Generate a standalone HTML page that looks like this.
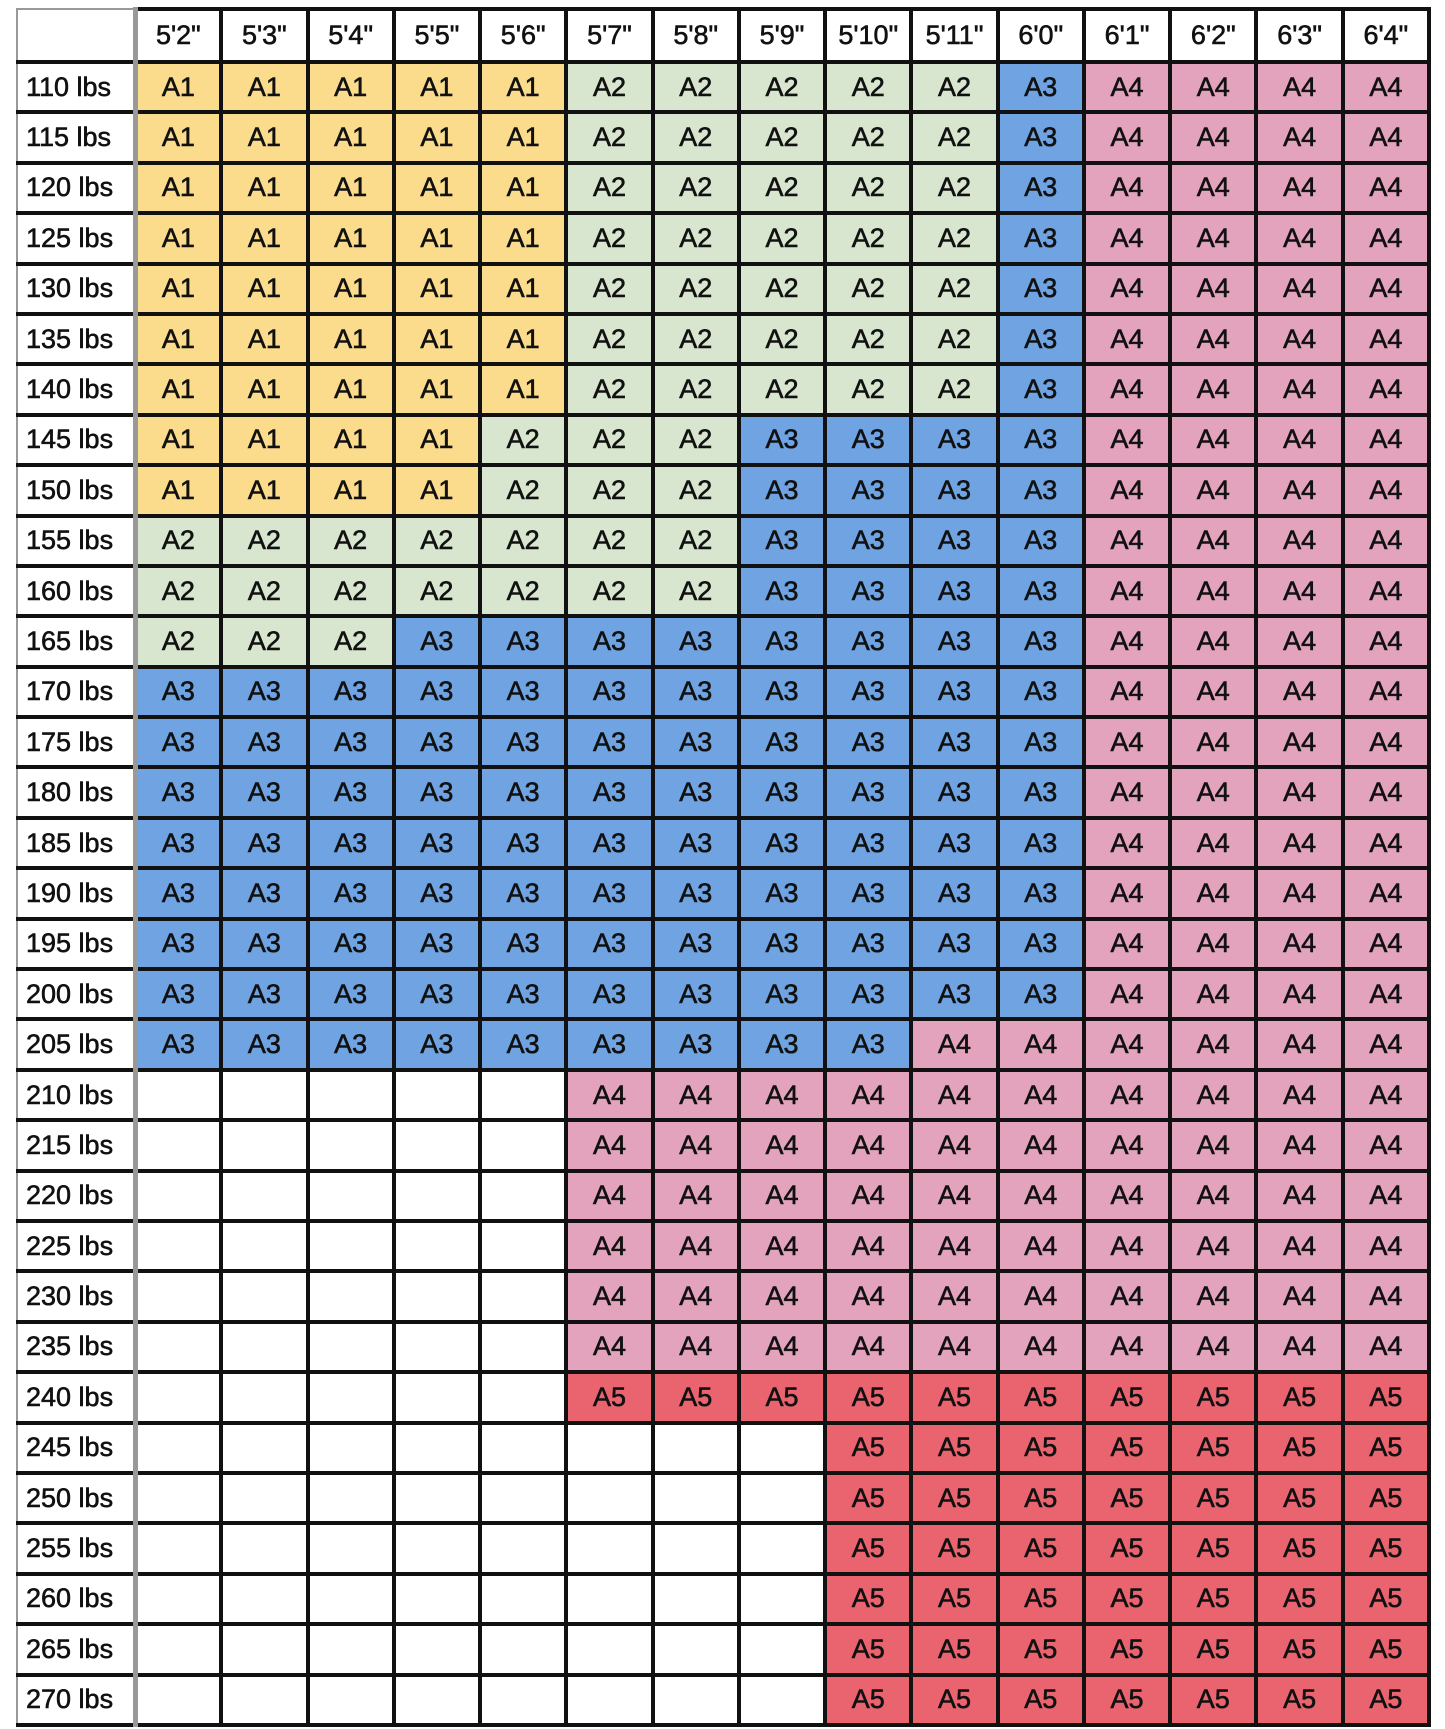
<!DOCTYPE html>
<html><head><meta charset="utf-8"><style>
body{margin:0;background:#fff;width:1445px;height:1729px;overflow:hidden}
table{position:absolute;left:16px;top:7px;width:1412px;border-collapse:collapse;table-layout:fixed;font-family:"Liberation Sans",sans-serif;font-size:27px;color:#111;-webkit-text-stroke:0.6px #111}
tr{height:50.4px}
tr.h{height:53px}
td{border:4px solid #111;text-align:center;padding:0;overflow:hidden;box-sizing:border-box}
tr.h td{background:#fff}
td.l{text-align:left;padding-left:8px;border-left:2px solid #999;border-right:5px solid #999;background:#fff}
tr.h td.l{border-top:2px solid #999}
.y{background:#fbdc8c}.g{background:#d9e6cf}.b{background:#6fa3e2}.p{background:#e3a3bd}.r{background:#ea6470}.w{background:#fff}
</style></head><body>
<table>
<colgroup><col style="width:118px"><col span="15" style="width:86.27px"></colgroup>
<tr class="h"><td class="l"></td><td>5'2"</td><td>5'3"</td><td>5'4"</td><td>5'5"</td><td>5'6"</td><td>5'7"</td><td>5'8"</td><td>5'9"</td><td>5'10"</td><td>5'11"</td><td>6'0"</td><td>6'1"</td><td>6'2"</td><td>6'3"</td><td>6'4"</td></tr>
<tr><td class="l">110 lbs</td><td class="y">A1</td><td class="y">A1</td><td class="y">A1</td><td class="y">A1</td><td class="y">A1</td><td class="g">A2</td><td class="g">A2</td><td class="g">A2</td><td class="g">A2</td><td class="g">A2</td><td class="b">A3</td><td class="p">A4</td><td class="p">A4</td><td class="p">A4</td><td class="p">A4</td></tr>
<tr><td class="l">115 lbs</td><td class="y">A1</td><td class="y">A1</td><td class="y">A1</td><td class="y">A1</td><td class="y">A1</td><td class="g">A2</td><td class="g">A2</td><td class="g">A2</td><td class="g">A2</td><td class="g">A2</td><td class="b">A3</td><td class="p">A4</td><td class="p">A4</td><td class="p">A4</td><td class="p">A4</td></tr>
<tr><td class="l">120 lbs</td><td class="y">A1</td><td class="y">A1</td><td class="y">A1</td><td class="y">A1</td><td class="y">A1</td><td class="g">A2</td><td class="g">A2</td><td class="g">A2</td><td class="g">A2</td><td class="g">A2</td><td class="b">A3</td><td class="p">A4</td><td class="p">A4</td><td class="p">A4</td><td class="p">A4</td></tr>
<tr><td class="l">125 lbs</td><td class="y">A1</td><td class="y">A1</td><td class="y">A1</td><td class="y">A1</td><td class="y">A1</td><td class="g">A2</td><td class="g">A2</td><td class="g">A2</td><td class="g">A2</td><td class="g">A2</td><td class="b">A3</td><td class="p">A4</td><td class="p">A4</td><td class="p">A4</td><td class="p">A4</td></tr>
<tr><td class="l">130 lbs</td><td class="y">A1</td><td class="y">A1</td><td class="y">A1</td><td class="y">A1</td><td class="y">A1</td><td class="g">A2</td><td class="g">A2</td><td class="g">A2</td><td class="g">A2</td><td class="g">A2</td><td class="b">A3</td><td class="p">A4</td><td class="p">A4</td><td class="p">A4</td><td class="p">A4</td></tr>
<tr><td class="l">135 lbs</td><td class="y">A1</td><td class="y">A1</td><td class="y">A1</td><td class="y">A1</td><td class="y">A1</td><td class="g">A2</td><td class="g">A2</td><td class="g">A2</td><td class="g">A2</td><td class="g">A2</td><td class="b">A3</td><td class="p">A4</td><td class="p">A4</td><td class="p">A4</td><td class="p">A4</td></tr>
<tr><td class="l">140 lbs</td><td class="y">A1</td><td class="y">A1</td><td class="y">A1</td><td class="y">A1</td><td class="y">A1</td><td class="g">A2</td><td class="g">A2</td><td class="g">A2</td><td class="g">A2</td><td class="g">A2</td><td class="b">A3</td><td class="p">A4</td><td class="p">A4</td><td class="p">A4</td><td class="p">A4</td></tr>
<tr><td class="l">145 lbs</td><td class="y">A1</td><td class="y">A1</td><td class="y">A1</td><td class="y">A1</td><td class="g">A2</td><td class="g">A2</td><td class="g">A2</td><td class="b">A3</td><td class="b">A3</td><td class="b">A3</td><td class="b">A3</td><td class="p">A4</td><td class="p">A4</td><td class="p">A4</td><td class="p">A4</td></tr>
<tr><td class="l">150 lbs</td><td class="y">A1</td><td class="y">A1</td><td class="y">A1</td><td class="y">A1</td><td class="g">A2</td><td class="g">A2</td><td class="g">A2</td><td class="b">A3</td><td class="b">A3</td><td class="b">A3</td><td class="b">A3</td><td class="p">A4</td><td class="p">A4</td><td class="p">A4</td><td class="p">A4</td></tr>
<tr><td class="l">155 lbs</td><td class="g">A2</td><td class="g">A2</td><td class="g">A2</td><td class="g">A2</td><td class="g">A2</td><td class="g">A2</td><td class="g">A2</td><td class="b">A3</td><td class="b">A3</td><td class="b">A3</td><td class="b">A3</td><td class="p">A4</td><td class="p">A4</td><td class="p">A4</td><td class="p">A4</td></tr>
<tr><td class="l">160 lbs</td><td class="g">A2</td><td class="g">A2</td><td class="g">A2</td><td class="g">A2</td><td class="g">A2</td><td class="g">A2</td><td class="g">A2</td><td class="b">A3</td><td class="b">A3</td><td class="b">A3</td><td class="b">A3</td><td class="p">A4</td><td class="p">A4</td><td class="p">A4</td><td class="p">A4</td></tr>
<tr><td class="l">165 lbs</td><td class="g">A2</td><td class="g">A2</td><td class="g">A2</td><td class="b">A3</td><td class="b">A3</td><td class="b">A3</td><td class="b">A3</td><td class="b">A3</td><td class="b">A3</td><td class="b">A3</td><td class="b">A3</td><td class="p">A4</td><td class="p">A4</td><td class="p">A4</td><td class="p">A4</td></tr>
<tr><td class="l">170 lbs</td><td class="b">A3</td><td class="b">A3</td><td class="b">A3</td><td class="b">A3</td><td class="b">A3</td><td class="b">A3</td><td class="b">A3</td><td class="b">A3</td><td class="b">A3</td><td class="b">A3</td><td class="b">A3</td><td class="p">A4</td><td class="p">A4</td><td class="p">A4</td><td class="p">A4</td></tr>
<tr><td class="l">175 lbs</td><td class="b">A3</td><td class="b">A3</td><td class="b">A3</td><td class="b">A3</td><td class="b">A3</td><td class="b">A3</td><td class="b">A3</td><td class="b">A3</td><td class="b">A3</td><td class="b">A3</td><td class="b">A3</td><td class="p">A4</td><td class="p">A4</td><td class="p">A4</td><td class="p">A4</td></tr>
<tr><td class="l">180 lbs</td><td class="b">A3</td><td class="b">A3</td><td class="b">A3</td><td class="b">A3</td><td class="b">A3</td><td class="b">A3</td><td class="b">A3</td><td class="b">A3</td><td class="b">A3</td><td class="b">A3</td><td class="b">A3</td><td class="p">A4</td><td class="p">A4</td><td class="p">A4</td><td class="p">A4</td></tr>
<tr><td class="l">185 lbs</td><td class="b">A3</td><td class="b">A3</td><td class="b">A3</td><td class="b">A3</td><td class="b">A3</td><td class="b">A3</td><td class="b">A3</td><td class="b">A3</td><td class="b">A3</td><td class="b">A3</td><td class="b">A3</td><td class="p">A4</td><td class="p">A4</td><td class="p">A4</td><td class="p">A4</td></tr>
<tr><td class="l">190 lbs</td><td class="b">A3</td><td class="b">A3</td><td class="b">A3</td><td class="b">A3</td><td class="b">A3</td><td class="b">A3</td><td class="b">A3</td><td class="b">A3</td><td class="b">A3</td><td class="b">A3</td><td class="b">A3</td><td class="p">A4</td><td class="p">A4</td><td class="p">A4</td><td class="p">A4</td></tr>
<tr><td class="l">195 lbs</td><td class="b">A3</td><td class="b">A3</td><td class="b">A3</td><td class="b">A3</td><td class="b">A3</td><td class="b">A3</td><td class="b">A3</td><td class="b">A3</td><td class="b">A3</td><td class="b">A3</td><td class="b">A3</td><td class="p">A4</td><td class="p">A4</td><td class="p">A4</td><td class="p">A4</td></tr>
<tr><td class="l">200 lbs</td><td class="b">A3</td><td class="b">A3</td><td class="b">A3</td><td class="b">A3</td><td class="b">A3</td><td class="b">A3</td><td class="b">A3</td><td class="b">A3</td><td class="b">A3</td><td class="b">A3</td><td class="b">A3</td><td class="p">A4</td><td class="p">A4</td><td class="p">A4</td><td class="p">A4</td></tr>
<tr><td class="l">205 lbs</td><td class="b">A3</td><td class="b">A3</td><td class="b">A3</td><td class="b">A3</td><td class="b">A3</td><td class="b">A3</td><td class="b">A3</td><td class="b">A3</td><td class="b">A3</td><td class="p">A4</td><td class="p">A4</td><td class="p">A4</td><td class="p">A4</td><td class="p">A4</td><td class="p">A4</td></tr>
<tr><td class="l">210 lbs</td><td class="w"></td><td class="w"></td><td class="w"></td><td class="w"></td><td class="w"></td><td class="p">A4</td><td class="p">A4</td><td class="p">A4</td><td class="p">A4</td><td class="p">A4</td><td class="p">A4</td><td class="p">A4</td><td class="p">A4</td><td class="p">A4</td><td class="p">A4</td></tr>
<tr><td class="l">215 lbs</td><td class="w"></td><td class="w"></td><td class="w"></td><td class="w"></td><td class="w"></td><td class="p">A4</td><td class="p">A4</td><td class="p">A4</td><td class="p">A4</td><td class="p">A4</td><td class="p">A4</td><td class="p">A4</td><td class="p">A4</td><td class="p">A4</td><td class="p">A4</td></tr>
<tr><td class="l">220 lbs</td><td class="w"></td><td class="w"></td><td class="w"></td><td class="w"></td><td class="w"></td><td class="p">A4</td><td class="p">A4</td><td class="p">A4</td><td class="p">A4</td><td class="p">A4</td><td class="p">A4</td><td class="p">A4</td><td class="p">A4</td><td class="p">A4</td><td class="p">A4</td></tr>
<tr><td class="l">225 lbs</td><td class="w"></td><td class="w"></td><td class="w"></td><td class="w"></td><td class="w"></td><td class="p">A4</td><td class="p">A4</td><td class="p">A4</td><td class="p">A4</td><td class="p">A4</td><td class="p">A4</td><td class="p">A4</td><td class="p">A4</td><td class="p">A4</td><td class="p">A4</td></tr>
<tr><td class="l">230 lbs</td><td class="w"></td><td class="w"></td><td class="w"></td><td class="w"></td><td class="w"></td><td class="p">A4</td><td class="p">A4</td><td class="p">A4</td><td class="p">A4</td><td class="p">A4</td><td class="p">A4</td><td class="p">A4</td><td class="p">A4</td><td class="p">A4</td><td class="p">A4</td></tr>
<tr><td class="l">235 lbs</td><td class="w"></td><td class="w"></td><td class="w"></td><td class="w"></td><td class="w"></td><td class="p">A4</td><td class="p">A4</td><td class="p">A4</td><td class="p">A4</td><td class="p">A4</td><td class="p">A4</td><td class="p">A4</td><td class="p">A4</td><td class="p">A4</td><td class="p">A4</td></tr>
<tr><td class="l">240 lbs</td><td class="w"></td><td class="w"></td><td class="w"></td><td class="w"></td><td class="w"></td><td class="r">A5</td><td class="r">A5</td><td class="r">A5</td><td class="r">A5</td><td class="r">A5</td><td class="r">A5</td><td class="r">A5</td><td class="r">A5</td><td class="r">A5</td><td class="r">A5</td></tr>
<tr><td class="l">245 lbs</td><td class="w"></td><td class="w"></td><td class="w"></td><td class="w"></td><td class="w"></td><td class="w"></td><td class="w"></td><td class="w"></td><td class="r">A5</td><td class="r">A5</td><td class="r">A5</td><td class="r">A5</td><td class="r">A5</td><td class="r">A5</td><td class="r">A5</td></tr>
<tr><td class="l">250 lbs</td><td class="w"></td><td class="w"></td><td class="w"></td><td class="w"></td><td class="w"></td><td class="w"></td><td class="w"></td><td class="w"></td><td class="r">A5</td><td class="r">A5</td><td class="r">A5</td><td class="r">A5</td><td class="r">A5</td><td class="r">A5</td><td class="r">A5</td></tr>
<tr><td class="l">255 lbs</td><td class="w"></td><td class="w"></td><td class="w"></td><td class="w"></td><td class="w"></td><td class="w"></td><td class="w"></td><td class="w"></td><td class="r">A5</td><td class="r">A5</td><td class="r">A5</td><td class="r">A5</td><td class="r">A5</td><td class="r">A5</td><td class="r">A5</td></tr>
<tr><td class="l">260 lbs</td><td class="w"></td><td class="w"></td><td class="w"></td><td class="w"></td><td class="w"></td><td class="w"></td><td class="w"></td><td class="w"></td><td class="r">A5</td><td class="r">A5</td><td class="r">A5</td><td class="r">A5</td><td class="r">A5</td><td class="r">A5</td><td class="r">A5</td></tr>
<tr><td class="l">265 lbs</td><td class="w"></td><td class="w"></td><td class="w"></td><td class="w"></td><td class="w"></td><td class="w"></td><td class="w"></td><td class="w"></td><td class="r">A5</td><td class="r">A5</td><td class="r">A5</td><td class="r">A5</td><td class="r">A5</td><td class="r">A5</td><td class="r">A5</td></tr>
<tr><td class="l">270 lbs</td><td class="w"></td><td class="w"></td><td class="w"></td><td class="w"></td><td class="w"></td><td class="w"></td><td class="w"></td><td class="w"></td><td class="r">A5</td><td class="r">A5</td><td class="r">A5</td><td class="r">A5</td><td class="r">A5</td><td class="r">A5</td><td class="r">A5</td></tr>
</table>
</body></html>
